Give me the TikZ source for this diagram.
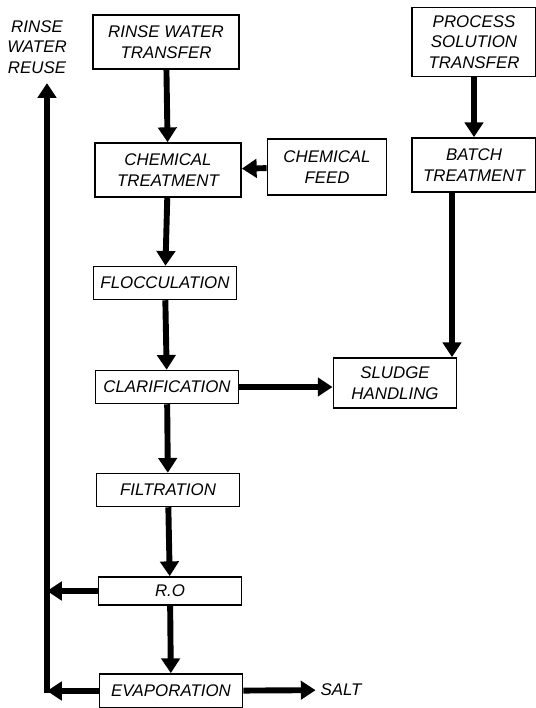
\documentclass[tikz,border=0pt]{standalone}
\usepackage{fontspec}
\setmainfont{Liberation Sans}
\usetikzlibrary{arrows.meta}
\begin{document}
\begin{tikzpicture}[x=0.025cm, y=-0.025cm, font=\fontsize{12}{14.5}\selectfont\itshape]
    \tikzstyle{stagebox}=[draw=black, line width=1.2pt, minimum width=3.58cm, minimum height=0.82cm, align=center, inner sep=2pt]
    \tikzstyle{tallbox}=[stagebox, minimum height=1.35cm]
    \tikzstyle{flow}=[line width=4.2pt, -{Triangle[length=10.5pt, width=13pt]}]

    \useasboundingbox (0,0) rectangle (536,708);

    \node[align=center] (reuse) at (37,47) {RINSE\\WATER\\REUSE};
    \node[tallbox, minimum width=3.65cm] (rwt) at (166,42) {RINSE WATER\\TRANSFER};
    \node[tallbox, minimum width=3.1cm, minimum height=1.72cm] (pst) at (474,42) {PROCESS\\SOLUTION\\TRANSFER};

    \node[tallbox, minimum width=3.65cm] (chemtreat) at (168,170) {CHEMICAL\\TREATMENT};
    \node[tallbox, minimum width=2.98cm, minimum height=1.4cm] (chemfeed) at (327,167) {CHEMICAL\\FEED};
    \node[tallbox, minimum width=3.1cm] (batch) at (474,165) {BATCH\\TREATMENT};

    \node[stagebox] (floc) at (165,283) {FLOCCULATION};
    \node[stagebox] (clar) at (167,387) {CLARIFICATION};
    \node[tallbox, minimum width=3.08cm, minimum height=1.25cm] (sludge) at (395,383) {SLUDGE\\HANDLING};
    \node[stagebox] (filt) at (168,490) {FILTRATION};
    \node[stagebox, minimum height=0.7cm] (ro) at (170,591) {R.O};
    \node[stagebox, minimum height=0.85cm] (evap) at (171,691) {EVAPORATION};
    \node (salt) at (341,690) {SALT};

    \coordinate (spine) at (47,697);

    \draw[flow] (rwt) -- (chemtreat);
    \draw[flow] (chemfeed) -- (chemtreat);
    \draw[flow] (pst) -- (batch);
    \draw[flow] ([xshift=-0.55cm]batch.south) -- ([xshift=-0.55cm]batch.south |- sludge.north);
    \draw[flow] (chemtreat) -- (floc);
    \draw[flow] (floc) -- (clar);
    \draw[flow] (clar.east) -- (clar.east -| sludge.west);
    \draw[flow] (clar) -- (filt);
    \draw[flow] (filt) -- (ro);
    \draw[flow] (ro) -- (evap);
    \draw[flow] (evap) -- (salt);
    \draw[flow] (ro.west) -- (ro.west -| spine);
    \draw[flow] (evap.west) -- (evap.west -| spine);
    \draw[flow] ([yshift=0.1cm]spine) -- ([yshift=-0.12cm]spine |- reuse.south);
\end{tikzpicture}
\end{document}
